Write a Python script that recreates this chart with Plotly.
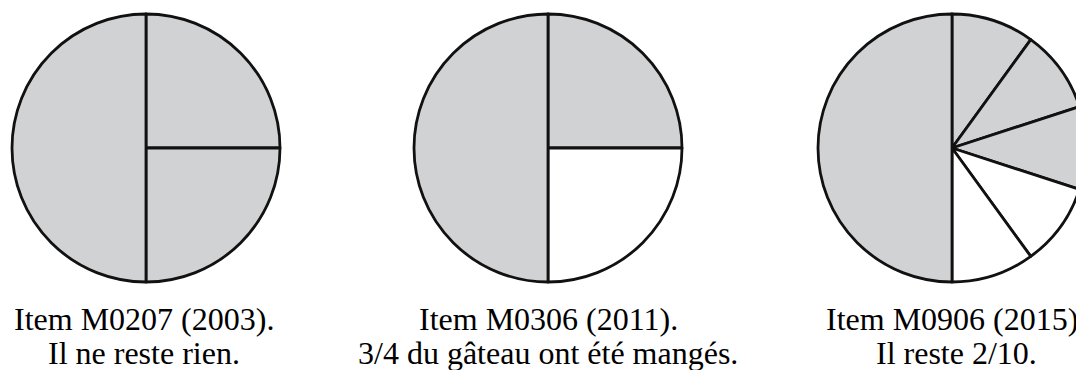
import plotly.graph_objects as go

# parts of each cake, clockwise from 12 o'clock
cake_2003 = [1, 1, 2]
cake_2011 = [1, 1, 2]
cake_2015 = [1, 1, 1, 1, 1, 5]

# True = eaten (grey), False = left (white)
eaten_2003 = [True, True, True]
eaten_2011 = [True, False, True]
eaten_2015 = [True, True, True, False, False, True]

captions = [
    ("Item M0207 (2003).", "Il ne reste rien."),
    ("Item M0306 (2011).", "3/4 du gâteau ont été mangés."),
    ("Item M0906 (2015).", "Il reste 2/10."),
]

GREY = "#d1d2d4"
# the figure is a bit wider than the window so the last cake is cut like the scan
W, H = 1092, 370


def colours(flags):
    return [GREY if f else "white" for f in flags]


def pie(values, flags, cx, r, cy=148):
    # domain in paper units from pixel centre/radius
    return go.Pie(
        values=values,
        labels=[f"part {i + 1}" for i in range(len(values))],
        sort=False,
        direction="clockwise",
        rotation=0,
        textinfo="none",
        hoverinfo="skip",
        showlegend=False,
        marker=dict(colors=colours(flags), line=dict(color="#111111", width=2.8)),
        domain=dict(x=[(cx - r) / W, (cx + r) / W],
                    y=[(H - cy - r) / H, (H - cy + r) / H]),
    )


fig = go.Figure([
    pie(cake_2003, eaten_2003, 146, 134),
    pie(cake_2011, eaten_2011, 548, 134),
    pie(cake_2015, eaten_2015, 952, 134),
])

centres = [144, 548, 956]
for cx, (line1, line2) in zip(centres, captions):
    for text, base in [(line1, 339), (line2, 373)]:
        fig.add_annotation(
            x=cx / W, y=(H - base) / H, xref="paper", yref="paper",
            text=text, showarrow=False, xanchor="center", yanchor="bottom",
            font=dict(family="Liberation Serif", size=32, color="black"),
        )

fig.update_layout(
    width=W, height=H,
    margin=dict(l=0, r=0, t=0, b=0),
    paper_bgcolor="white", plot_bgcolor="white",
)

fig.write_html(
    "out.html",
    config={"displayModeBar": False},
    post_script="document.body.style.margin='0';document.body.style.overflow='hidden';",
)
